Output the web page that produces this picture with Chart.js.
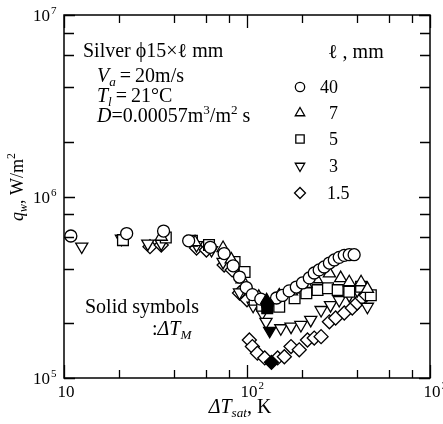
<!DOCTYPE html>
<html>
<head>
<meta charset="utf-8">
<script src="https://cdn.jsdelivr.net/npm/chart.js@4/dist/chart.umd.min.js"></script>
<style>
  html, body { margin: 0; padding: 0; background: #fff; }
  canvas { display: block; }
</style>
</head>
<body>
<canvas id="c" width="443" height="424"></canvas>
<script>
// Heat flux q_w versus wall superheat ΔT_sat for silver cylinders of length ℓ (mm)

// ℓ = 40 mm (circles)
const l40X = [10.9, 22, 35, 48, 63, 75, 84, 91, 99, 107, 119, 145, 156, 170, 186, 201, 219, 233, 248, 264, 282, 300, 319, 340, 362, 385];
const l40Y = [6.06e5, 6.25e5, 6.45e5, 5.7e5, 5.25e5, 4.85e5, 4.15e5, 3.6e5, 3.15e5, 2.88e5, 2.72e5, 2.76e5, 2.85e5, 3.02e5, 3.17e5, 3.34e5, 3.56e5, 3.79e5, 3.94e5, 4.09e5, 4.3e5, 4.47e5, 4.62e5, 4.74e5, 4.78e5, 4.78e5];

// ℓ = 7 mm (triangles)
const l7X = [34, 52, 74, 82, 94, 104, 116, 150, 175, 210, 240, 282, 325, 362, 420, 455];
const l7Y = [6.0e5, 5.6e5, 5.2e5, 4.5e5, 3.5e5, 3.0e5, 2.8e5, 2.85e5, 3.0e5, 3.3e5, 3.5e5, 3.77e5, 3.55e5, 3.37e5, 3.37e5, 3.1e5];

// ℓ = 5 mm (squares)
const l5X = [21, 36, 50, 62, 85.5, 97, 110, 121, 150, 182, 211, 243, 277, 313, 362, 420, 475];
const l5Y = [5.75e5, 5.95e5, 5.7e5, 5.4e5, 4.36e5, 3.84e5, 2.7e5, 2.5e5, 2.47e5, 2.75e5, 2.93e5, 3.05e5, 3.12e5, 3.05e5, 2.99e5, 3.18e5, 2.86e5];

// ℓ = 3 mm (inverted triangles)
const l3X = [12.5, 20.6, 28.7, 34, 53, 64, 74, 91, 108, 121, 127, 153, 174, 197, 223, 254, 286, 319, 362, 400, 455];
const l3Y = [5.3e5, 5.85e5, 5.5e5, 5.5e5, 5.4e5, 5.07e5, 4.36e5, 2.96e5, 2.5e5, 2.28e5, 2.04e5, 1.88e5, 1.92e5, 1.96e5, 2.09e5, 2.37e5, 2.52e5, 2.69e5, 2.86e5, 3.05e5, 2.47e5];

// ℓ = 1.5 mm (diamonds)
const l15X = [29.5, 34, 53, 60, 75, 83, 91, 100, 103, 107, 114, 125, 147, 160, 174, 193, 214, 233, 254, 282, 305, 340, 376, 400, 426, 448];
const l15Y = [5.29e5, 5.4e5, 5.2e5, 5.07e5, 4.19e5, 3.94e5, 2.94e5, 2.7e5, 1.62e5, 1.49e5, 1.37e5, 1.29e5, 1.29e5, 1.31e5, 1.49e5, 1.43e5, 1.62e5, 1.66e5, 1.69e5, 2.04e5, 2.14e5, 2.28e5, 2.43e5, 2.59e5, 2.76e5, 2.86e5];

// Solid symbols: ΔT_M (minimum-heat-flux points), order 40, 7, 5, 3, 1.5
const minX = [129, 128, 129, 133, 136];
const minY = [2.55e5, 2.68e5, 2.42e5, 1.82e5, 1.22e5];

// Legend entries and axis ticks
const lengthLabels = ['40', '7', '5', '3', '1.5'];
const xMajorTicks = [10, 100, 1000];
const xMinorTicks = [20, 40, 60, 80, 200, 400, 600, 800];
const yMajorTicks = [1e5, 1e6, 1e7];
const yMinorTicks = [2e5, 4e5, 6e5, 8e5, 2e6, 4e6, 6e6, 8e6];

const SERIF = '"Liberation Serif", "DejaVu Serif", serif';
const markers = [
  { style: 'circle',   radius: 6.0, rotation: 0 },
  { style: 'triangle', radius: 7.0, rotation: 0 },
  { style: 'rect',     radius: 7.6, rotation: 0 },
  { style: 'triangle', radius: 7.0, rotation: 180 },
  { style: 'rectRot',  radius: 7.0, rotation: 0 }
];

const toPts = (xs, ys) => xs.map((x, i) => ({ x: x, y: ys[i] }));
const seriesData = [toPts(l40X, l40Y), toPts(l7X, l7Y), toPts(l5X, l5Y), toPts(l3X, l3Y), toPts(l15X, l15Y)];

function markerSet(points, m, fill) {
  return {
    data: points,
    showLine: false,
    pointStyle: m.style,
    pointRadius: m.radius,
    pointRotation: m.rotation,
    pointBorderWidth: 1.3,
    borderColor: '#000',
    backgroundColor: fill,
    pointBackgroundColor: fill,
    pointBorderColor: '#000'
  };
}

// solid symbols drawn on top, then 40 mm circles over the rest
const datasets = [];
minX.forEach((x, i) => datasets.push(markerSet([{ x: x, y: minY[i] }], markers[i], '#000')));
seriesData.forEach((pts, i) => datasets.push(markerSet(pts, markers[i], '#fff')));

// text with italic / sub / superscript runs
function rich(ctx, x, y, parts, size, align) {
  const runs = [];
  let total = 0;
  for (const p of parts) {
    const small = p.sub || p.sup;
    const fs = small ? size * 0.66 : size;
    const font = (p.it ? 'italic ' : '') + fs + 'px ' + SERIF;
    ctx.font = font;
    const w = ctx.measureText(p.t).width;
    runs.push({ t: p.t, font: font, w: w, dy: p.sub ? size * 0.22 : (p.sup ? -size * 0.42 : 0) });
    total += w;
  }
  let cx = align === 'center' ? x - total / 2 : (align === 'right' ? x - total : x);
  for (const r of runs) {
    ctx.font = r.font;
    ctx.fillText(r.t, cx, y + r.dy);
    cx += r.w;
  }
  return total;
}

const framePlugin = {
  id: 'frame',
  afterDraw(chart) {
    const ctx = chart.ctx;
    const a = chart.chartArea;
    const xs = chart.scales.x, ys = chart.scales.y;
    ctx.save();
    ctx.strokeStyle = '#000';
    ctx.fillStyle = '#000';
    ctx.lineWidth = 1.5;
    ctx.strokeRect(a.left, a.top, a.right - a.left, a.bottom - a.top);

    // inward ticks on all four sides
    ctx.lineWidth = 1.3;
    const tick = (v, len, horiz) => {
      ctx.beginPath();
      if (horiz) {
        const px = Math.round(xs.getPixelForValue(v)) + 0.5;
        ctx.moveTo(px, a.bottom); ctx.lineTo(px, a.bottom - len);
        ctx.moveTo(px, a.top); ctx.lineTo(px, a.top + len);
      } else {
        const py = Math.round(ys.getPixelForValue(v)) + 0.5;
        ctx.moveTo(a.left, py); ctx.lineTo(a.left + len, py);
        ctx.moveTo(a.right, py); ctx.lineTo(a.right - len, py);
      }
      ctx.stroke();
    };
    xMajorTicks.forEach(v => tick(v, 13, true));
    xMinorTicks.forEach(v => tick(v, 8, true));
    yMajorTicks.forEach(v => tick(v, 11, false));
    yMinorTicks.forEach(v => tick(v, 10, false));

    ctx.textBaseline = 'alphabetic';
    ctx.textAlign = 'left';

    // x tick labels: 10, 10², 10³
    xMajorTicks.forEach(v => {
      const px = xs.getPixelForValue(v);
      const e = Math.round(Math.log10(v));
      ctx.font = '17px ' + SERIF;
      const w10 = ctx.measureText('10').width;
      ctx.fillText('10', px - w10 / 2 + 2, 397);
      if (e > 1) {
        ctx.font = '11px ' + SERIF;
        ctx.fillText(String(e), px + w10 / 2 + 3, 389);
      }
    });
    // y tick labels: 10⁵, 10⁶, 10⁷
    yMajorTicks.forEach(v => {
      const py = ys.getPixelForValue(v);
      const e = Math.round(Math.log10(v));
      ctx.font = '17px ' + SERIF;
      const w10 = ctx.measureText('10').width;
      ctx.fillText('10', 50 - w10, py + 6);
      ctx.font = '11px ' + SERIF;
      ctx.fillText(String(e), 51, py - 1);
    });

    // axis titles
    rich(ctx, 240, 413, [{ t: 'ΔT', it: true }, { t: 'sat', it: true, sub: true }, { t: ', K' }], 20, 'center');
    ctx.save();
    ctx.translate(23, 187);
    ctx.rotate(-Math.PI / 2);
    rich(ctx, 0, 0, [{ t: 'q', it: true }, { t: 'w', it: true, sub: true }, { t: ', W/m' }, { t: '2', sup: true }], 18, 'center');
    ctx.restore();

    // conditions block
    rich(ctx, 83, 57, [{ t: 'Silver ϕ15×ℓ mm' }], 20, 'left');
    rich(ctx, 97, 82, [{ t: 'V', it: true }, { t: 'a', it: true, sub: true }, { t: '\u2009=\u200920m/s' }], 20, 'left');
    rich(ctx, 97, 102, [{ t: 'T', it: true }, { t: 'l', it: true, sub: true }, { t: '\u2009=\u200921°C' }], 20, 'left');
    rich(ctx, 97, 122, [{ t: 'D', it: true }, { t: '=0.00057m' }, { t: '3', sup: true }, { t: '/m' }, { t: '2', sup: true }, { t: ' s' }], 20, 'left');

    // legend
    rich(ctx, 328, 58, [{ t: 'ℓ' }, { t: ' , mm' }], 20, 'left');
    const legY = [87, 113, 139, 166, 193];
    lengthLabels.forEach((lab, i) => {
      const m = markers[i];
      ctx.lineWidth = 1.3;
      ctx.fillStyle = '#fff';
      ctx.strokeStyle = '#000';
      Chart.helpers.drawPoint(ctx, { pointStyle: m.style, radius: m.radius * 0.78, rotation: m.rotation, borderWidth: 1.3 }, 300, legY[i]);
      ctx.fillStyle = '#000';
      ctx.font = '18px ' + SERIF;
      if (lab.indexOf('.') >= 0) {
        ctx.fillText(lab, 327, legY[i] + 6);
      } else {
        const w = ctx.measureText(lab).width;
        ctx.fillText(lab, 338 - w, legY[i] + 6);
      }
    });

    // solid-symbol note
    rich(ctx, 85, 313, [{ t: 'Solid symbols' }], 20, 'left');
    rich(ctx, 152, 335, [{ t: ':' }, { t: 'ΔT', it: true }, { t: 'M', it: true, sub: true }], 20, 'left');
    ctx.restore();
  }
};

new Chart(document.getElementById('c').getContext('2d'), {
  type: 'scatter',
  data: { datasets: datasets },
  options: {
    responsive: false,
    animation: false,
    devicePixelRatio: 1,
    layout: { padding: { left: 64, right: 13, top: 15, bottom: 46 } },
    plugins: { legend: { display: false }, tooltip: { enabled: false } },
    scales: {
      x: { type: 'logarithmic', min: 10, max: 1000, display: false },
      y: { type: 'logarithmic', min: 1e5, max: 1e7, display: false }
    }
  },
  plugins: [framePlugin]
});
</script>
</body>
</html>
